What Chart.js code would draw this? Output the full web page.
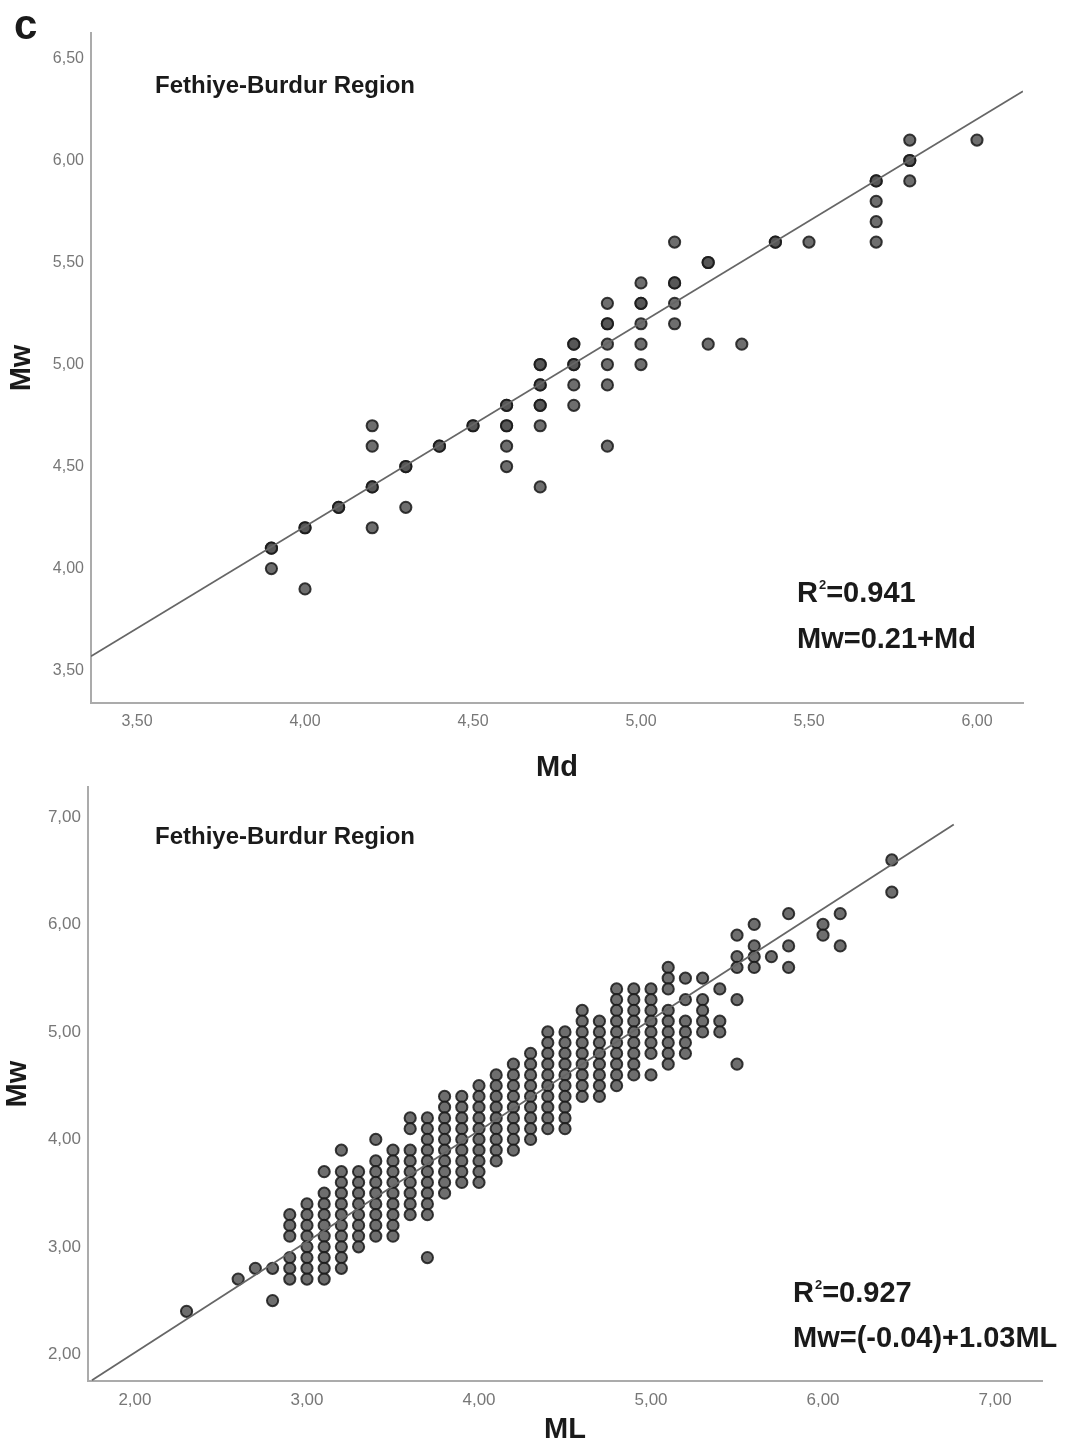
<!DOCTYPE html>
<html>
<head>
<meta charset="utf-8">
<script src="https://cdn.jsdelivr.net/npm/chart.js"></script>
<style>
  body { margin: 0; background: #fff; }
  .quadro { position: absolute; left: 0; width: 1072px; }
  #q1 { top: 0; height: 790px; }
  #q2 { top: 770px; height: 678px; }
</style>
</head>
<body>
<div class="quadro" id="q1"><canvas id="grafMd" width="1072" height="790"></canvas></div>
<div class="quadro" id="q2"><canvas id="grafMl" width="1072" height="678"></canvas></div>
<script>
// dados do grafico de cima (Md x Mw), por coluna de Md
const mdCols = [3.9, 4.0, 4.1, 4.2, 4.3, 4.4, 4.5, 4.6, 4.7, 4.8, 4.9, 5.0, 5.1, 5.2, 5.3, 5.4, 5.5, 5.7, 5.8, 6.0];
const mwByMd = [
  [4.1, 4.1, 4.0],
  [4.2, 4.2, 3.9],
  [4.3, 4.3],
  [4.7, 4.6, 4.4, 4.4, 4.2],
  [4.5, 4.5, 4.3],
  [4.6, 4.6],
  [4.7, 4.7],
  [4.8, 4.8, 4.7, 4.7, 4.6, 4.5],
  [5.0, 5.0, 4.9, 4.9, 4.8, 4.8, 4.7, 4.4],
  [5.1, 5.1, 5.0, 5.0, 4.9, 4.8],
  [5.3, 5.2, 5.2, 5.1, 5.0, 4.9, 4.6],
  [5.4, 5.3, 5.3, 5.2, 5.1, 5.0],
  [5.6, 5.4, 5.4, 5.3, 5.2],
  [5.5, 5.5, 5.1],
  [5.1],
  [5.6, 5.6],
  [5.6],
  [5.9, 5.9, 5.8, 5.7, 5.6],
  [6.1, 6.0, 6.0, 5.9],
  [6.1]
];
const retaMdX = [3.363, 6.137];
const retaMdY = [3.57, 6.34];
const ticksMdX = [3.5, 4.0, 4.5, 5.0, 5.5, 6.0];
const ticksMdY = [3.5, 4.0, 4.5, 5.0, 5.5, 6.0, 6.5];

// dados do grafico de baixo (ML x Mw), por coluna de ML
const mlCols = [2.3, 2.6, 2.7, 2.8, 2.9, 3.0, 3.1, 3.2, 3.3, 3.4, 3.5, 3.6, 3.7, 3.8, 3.9, 4.0, 4.1, 4.2, 4.3, 4.4,
                4.5, 4.6, 4.7, 4.8, 4.9, 5.0, 5.1, 5.2, 5.3, 5.4, 5.5, 5.6, 5.7, 5.8, 6.0, 6.1, 6.4];
const mwByMl = [
  [2.4],
  [2.7],
  [2.8],
  [2.8, 2.5],
  [3.3, 3.2, 3.1, 2.9, 2.8, 2.7],
  [3.4, 3.3, 3.2, 3.1, 3.0, 2.9, 2.8, 2.7],
  [3.7, 3.5, 3.4, 3.3, 3.2, 3.1, 3.0, 2.9, 2.8, 2.7],
  [3.9, 3.7, 3.6, 3.5, 3.4, 3.3, 3.2, 3.1, 3.0, 2.9, 2.8],
  [3.7, 3.6, 3.5, 3.4, 3.3, 3.2, 3.1, 3.0],
  [4.0, 3.8, 3.7, 3.6, 3.5, 3.4, 3.3, 3.2, 3.1],
  [3.9, 3.8, 3.7, 3.6, 3.5, 3.4, 3.3, 3.2, 3.1],
  [4.2, 4.1, 3.9, 3.8, 3.7, 3.6, 3.5, 3.4, 3.3],
  [4.2, 4.1, 4.0, 3.9, 3.8, 3.7, 3.6, 3.5, 3.4, 3.3, 2.9],
  [4.4, 4.3, 4.2, 4.1, 4.0, 3.9, 3.8, 3.7, 3.6, 3.5],
  [4.4, 4.3, 4.2, 4.1, 4.0, 3.9, 3.8, 3.7, 3.6],
  [4.5, 4.4, 4.3, 4.2, 4.1, 4.0, 3.9, 3.8, 3.7, 3.6],
  [4.6, 4.5, 4.4, 4.3, 4.2, 4.1, 4.0, 3.9, 3.8],
  [4.7, 4.6, 4.5, 4.4, 4.3, 4.2, 4.1, 4.0, 3.9],
  [4.8, 4.7, 4.6, 4.5, 4.4, 4.3, 4.2, 4.1, 4.0],
  [5.0, 4.9, 4.8, 4.7, 4.6, 4.5, 4.4, 4.3, 4.2, 4.1],
  [5.0, 4.9, 4.8, 4.7, 4.6, 4.5, 4.4, 4.3, 4.2, 4.1],
  [5.2, 5.1, 5.0, 4.9, 4.8, 4.7, 4.6, 4.5, 4.4],
  [5.1, 5.0, 4.9, 4.8, 4.7, 4.6, 4.5, 4.4],
  [5.4, 5.3, 5.2, 5.1, 5.0, 4.9, 4.8, 4.7, 4.6, 4.5],
  [5.4, 5.3, 5.2, 5.1, 5.0, 4.9, 4.8, 4.7, 4.6],
  [5.4, 5.3, 5.2, 5.1, 5.0, 4.9, 4.8, 4.6],
  [5.6, 5.5, 5.4, 5.2, 5.1, 5.0, 4.9, 4.8, 4.7],
  [5.5, 5.3, 5.1, 5.0, 4.9, 4.8],
  [5.5, 5.3, 5.2, 5.1, 5.0],
  [5.4, 5.1, 5.0],
  [5.9, 5.7, 5.6, 5.3, 4.7],
  [6.0, 5.8, 5.7, 5.6],
  [5.7],
  [6.1, 5.8, 5.6],
  [6.0, 5.9],
  [6.1, 5.8],
  [6.6, 6.3]
];
const retaMlX = [1.75, 6.76];
const retaMlY = [1.76, 6.93];
const ticksMlX = [2, 3, 4, 5, 6, 7];
const ticksMlY = [2, 3, 4, 5, 6, 7];

const fonte = "'Liberation Sans', Arial, sans-serif";

function pontos(colunas, valores) {
  const lista = [];
  colunas.forEach((x, i) => valores[i].forEach(y => lista.push({x, y})));
  return lista;
}

function reta(xs, ys) {
  return xs.map((x, i) => ({x, y: ys[i]}));
}

function virgula(v) {
  return Number(v).toFixed(2).replace('.', ',');
}

// escreve R² com o 2 elevado
function escreveR2(ctx, x, y, valor) {
  ctx.font = "bold 29px " + fonte;
  ctx.fillText("R", x, y);
  let w = ctx.measureText("R").width;
  ctx.font = "bold 13px " + fonte;
  ctx.fillText("2", x + w + 1, y - 13);
  w += ctx.measureText("2").width + 1;
  ctx.font = "bold 29px " + fonte;
  ctx.fillText("=" + valor, x + w, y);
}

const notas = {
  id: 'notas',
  afterDraw(chart, args, opts) {
    const ctx = chart.ctx;
    ctx.save();
    ctx.fillStyle = '#1a1a1a';
    ctx.textBaseline = 'alphabetic';
    ctx.textAlign = 'left';
    if (opts.letra) {
      ctx.font = "bold 42px " + fonte;
      ctx.fillText(opts.letra, 14, 39);
    }
    ctx.font = "bold 24px " + fonte;
    ctx.fillText(opts.regiao, 155, opts.regiaoY);
    escreveR2(ctx, opts.eqX, opts.r2Y, opts.r2);
    ctx.font = "bold 29px " + fonte;
    ctx.fillText(opts.equacao, opts.eqX, opts.eqY);
    ctx.restore();
  }
};

function grafico(id, cfg) {
  const ctx = document.getElementById(id);
  return new Chart(ctx, {
    type: 'scatter',
    data: {
      datasets: [
        {
          data: reta(cfg.retaX, cfg.retaY),
          showLine: true,
          borderColor: '#666',
          borderWidth: 1.8,
          pointRadius: 0,
          order: 0
        },
        {
          data: pontos(cfg.colunas, cfg.valores),
          backgroundColor: 'rgba(85,85,85,0.85)',
          borderColor: 'rgba(25,25,25,0.85)',
          borderWidth: 2,
          pointRadius: 5.6,
          order: 1
        }
      ]
    },
    options: {
      responsive: false,
      animation: false,
      layout: { padding: cfg.padding },
      plugins: {
        legend: { display: false },
        tooltip: { enabled: false },
        notas: cfg.notas
      },
      scales: {
        x: {
          type: 'linear',
          min: cfg.xMin,
          max: cfg.xMax,
          afterBuildTicks: s => { s.ticks = cfg.ticksX.map(v => ({value: v})); },
          afterFit: s => { s.height = cfg.alturaX; },
          grid: { display: false, drawTicks: false },
          border: { display: true, color: '#ababab', width: 2 },
          ticks: {
            padding: cfg.padTickX,
            color: '#777',
            font: { family: fonte, size: cfg.tamTick },
            maxRotation: 0,
            callback: virgula
          },
          title: {
            display: true,
            text: cfg.tituloX,
            color: '#1a1a1a',
            font: { family: fonte, size: 29, weight: 'bold' },
            padding: { top: 0, bottom: cfg.padTituloX }
          }
        },
        y: {
          type: 'linear',
          min: cfg.yMin,
          max: cfg.yMax,
          afterBuildTicks: s => { s.ticks = cfg.ticksY.map(v => ({value: v})); },
          afterFit: s => { s.width = cfg.larguraY; },
          grid: { display: false, drawTicks: false },
          border: { display: true, color: '#ababab', width: 2 },
          ticks: {
            padding: 7,
            color: '#777',
            font: { family: fonte, size: cfg.tamTick },
            callback: virgula
          },
          title: {
            display: true,
            text: 'Mw',
            color: '#1a1a1a',
            font: { family: fonte, size: 29, weight: 'bold' },
            padding: { top: cfg.padTituloY, bottom: 0 }
          }
        }
      }
    },
    plugins: [notas]
  });
}

grafico('grafMd', {
  colunas: mdCols, valores: mwByMd,
  retaX: retaMdX, retaY: retaMdY,
  ticksX: ticksMdX, ticksY: ticksMdY,
  xMin: 3.363, xMax: 6.137, yMin: 3.341, yMax: 6.625,
  padding: { top: 33, right: 49, bottom: 0, left: 0 },
  larguraY: 91, alturaX: 87,
  tamTick: 16, padTickX: 9, padTituloX: 5, padTituloY: 5,
  tituloX: 'Md',
  notas: {
    letra: 'c',
    regiao: 'Fethiye-Burdur Region', regiaoY: 93,
    r2: '0.941', r2Y: 602,
    equacao: 'Mw=0.21+Md', eqX: 797, eqY: 648
  }
});

grafico('grafMl', {
  colunas: mlCols, valores: mwByMl,
  retaX: retaMlX, retaY: retaMlY,
  ticksX: ticksMlX, ticksY: ticksMlY,
  xMin: 1.727, xMax: 7.273, yMin: 1.752, yMax: 7.277,
  padding: { top: 17, right: 30, bottom: 0, left: 0 },
  larguraY: 88, alturaX: 67,
  tamTick: 17, padTickX: 9, padTituloX: 1, padTituloY: 1,
  tituloX: 'ML',
  notas: {
    letra: '',
    regiao: 'Fethiye-Burdur Region', regiaoY: 74,
    r2: '0.927', r2Y: 532,
    equacao: 'Mw=(-0.04)+1.03ML', eqX: 793, eqY: 577
  }
});
</script>
</body>
</html>
